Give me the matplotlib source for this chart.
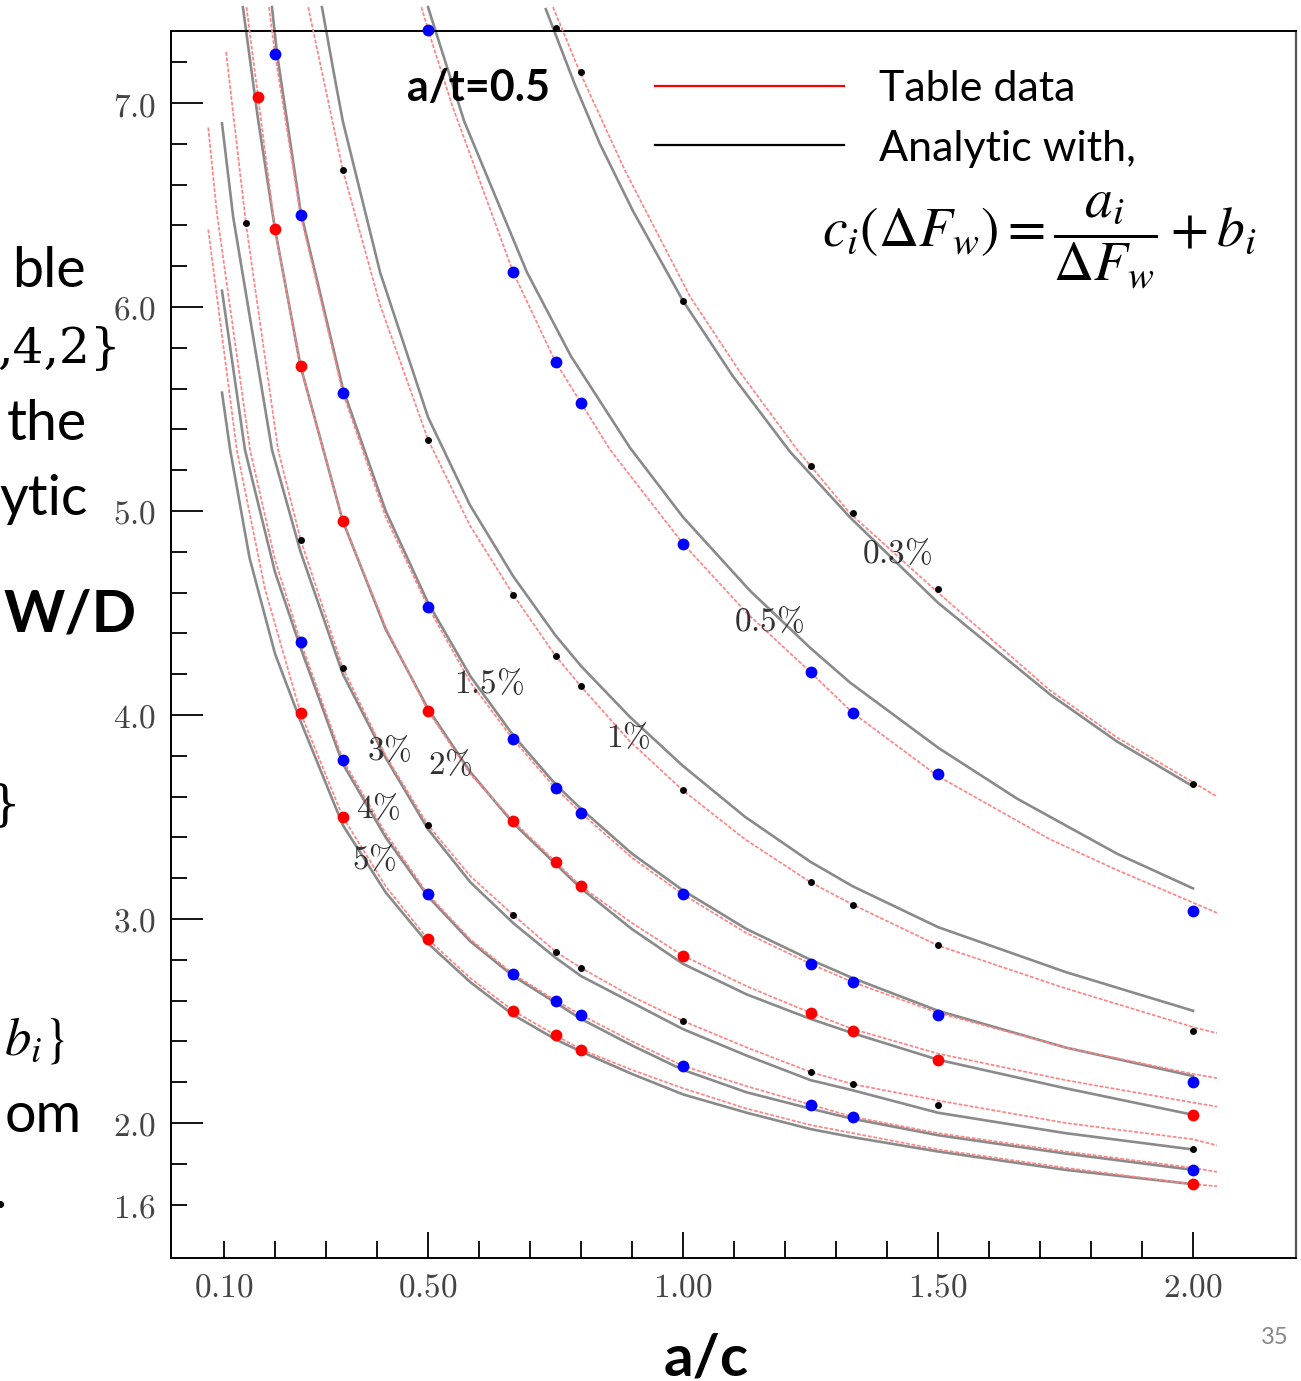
import matplotlib
matplotlib.use("Agg")
import matplotlib.pyplot as plt
from matplotlib.lines import Line2D
from matplotlib.ticker import FixedLocator, FixedFormatter

plt.rcParams['mathtext.fontset'] = 'cm'

# ---------------- data ----------------
# 0.3 %
dots03_x = [0.75, 0.8, 1.0, 1.25, 1.333, 1.5, 2.0]
dots03_y = [7.37, 7.15, 6.03, 5.22, 4.99, 4.62, 3.66]
gray03_x = [0.731, 0.788, 0.837, 0.902, 1.0, 1.098, 1.21, 1.327, 1.5, 1.72, 1.851, 2.0]
gray03_y = [7.46, 7.09, 6.80, 6.47, 6.03, 5.66, 5.29, 4.97, 4.55, 4.10, 3.87, 3.65]
red03_x = [0.745, 0.798, 0.886, 1.014, 1.112, 1.224, 1.327, 1.5, 1.72, 1.851, 2.0, 2.047]
red03_y = [7.47, 7.15, 6.67, 6.05, 5.68, 5.30, 4.99, 4.60, 4.12, 3.89, 3.67, 3.60]

# 0.5 %
dots05_x = [0.5, 0.667, 0.75, 0.8, 1.0, 1.25, 1.333, 1.5, 2.0]
dots05_y = [7.36, 6.17, 5.73, 5.53, 4.84, 4.21, 4.01, 3.71, 3.04]
gray05_x = [0.5, 0.571, 0.694, 0.78, 0.896, 1.0, 1.131, 1.249, 1.327, 1.5, 1.655, 1.851, 2.0]
gray05_y = [7.47, 6.91, 6.17, 5.76, 5.31, 4.97, 4.61, 4.33, 4.16, 3.84, 3.59, 3.32, 3.15]
red05_x = [0.487, 0.5, 0.547, 0.667, 0.75, 0.8, 0.857, 1.0, 1.125, 1.25, 1.333, 1.5, 1.72, 1.851, 2.0, 2.047]
red05_y = [7.47, 7.36, 6.99, 6.17, 5.73, 5.53, 5.30, 4.84, 4.50, 4.21, 4.01, 3.70, 3.39, 3.24, 3.08, 3.03]

# 1 %
dots1_x = [0.333, 0.5, 0.667, 0.75, 0.8, 1.0, 1.25, 1.333, 1.5, 2.0]
dots1_y = [6.67, 5.35, 4.59, 4.29, 4.14, 3.63, 3.18, 3.07, 2.87, 2.45]
gray1_x = [0.292, 0.318, 0.333, 0.406, 0.5, 0.582, 0.667, 0.75, 0.8, 0.896, 1.0, 1.122, 1.25, 1.333, 1.5, 1.75, 2.0]
gray1_y = [7.47, 7.11, 6.91, 6.17, 5.46, 5.03, 4.68, 4.39, 4.24, 3.99, 3.75, 3.50, 3.28, 3.16, 2.96, 2.74, 2.55]
red1_x = [0.265, 0.333, 0.406, 0.5, 0.582, 0.667, 0.75, 0.8, 0.896, 1.0, 1.122, 1.25, 1.333, 1.5, 1.75, 2.0, 2.047]
red1_y = [7.47, 6.67, 6.01, 5.35, 4.93, 4.59, 4.29, 4.14, 3.87, 3.63, 3.39, 3.18, 3.07, 2.87, 2.66, 2.47, 2.44]

# 1.5 %
dots15_x = [0.2, 0.25, 0.333, 0.5, 0.667, 0.75, 0.8, 1.0, 1.25, 1.333, 1.5, 2.0]
dots15_y = [7.24, 6.45, 5.58, 4.53, 3.88, 3.64, 3.52, 3.12, 2.78, 2.69, 2.53, 2.20]
gray15_x = [0.194, 0.204, 0.25, 0.333, 0.417, 0.5, 0.583, 0.667, 0.75, 0.8, 0.9, 1.0, 1.125, 1.25, 1.333, 1.5, 1.75, 2.0]
gray15_y = [7.47, 7.24, 6.47, 5.60, 5.00, 4.55, 4.19, 3.90, 3.66, 3.54, 3.32, 3.14, 2.95, 2.80, 2.71, 2.55, 2.37, 2.23]
red15_x = [0.188, 0.2, 0.25, 0.333, 0.417, 0.5, 0.583, 0.667, 0.75, 0.8, 0.9, 1.0, 1.125, 1.25, 1.333, 1.5, 1.75, 2.0, 2.047]
red15_y = [7.47, 7.24, 6.45, 5.58, 4.97, 4.53, 4.16, 3.88, 3.64, 3.52, 3.30, 3.12, 2.93, 2.78, 2.69, 2.54, 2.37, 2.24, 2.22]

# 2 %
dots2_x = [0.1667, 0.2, 0.25, 0.333, 0.5, 0.667, 0.75, 0.8, 1.0, 1.25, 1.333, 1.5, 2.0]
dots2_y = [7.03, 6.38, 5.71, 4.95, 4.02, 3.48, 3.28, 3.16, 2.82, 2.54, 2.45, 2.31, 2.04]
gray2_x = [0.137, 0.1667, 0.2, 0.25, 0.333, 0.417, 0.5, 0.583, 0.667, 0.75, 0.8, 0.9, 1.0, 1.125, 1.25, 1.333, 1.5, 1.75, 2.0]
gray2_y = [7.47, 6.92, 6.38, 5.71, 4.95, 4.42, 4.03, 3.72, 3.47, 3.27, 3.15, 2.95, 2.78, 2.63, 2.51, 2.44, 2.31, 2.17, 2.04]
red2_x = [0.144, 0.1667, 0.2, 0.25, 0.333, 0.417, 0.5, 0.583, 0.667, 0.75, 0.8, 0.9, 1.0, 1.125, 1.25, 1.333, 1.5, 1.75, 2.0, 2.047]
red2_y = [7.47, 7.03, 6.38, 5.71, 4.95, 4.43, 4.02, 3.71, 3.48, 3.28, 3.16, 2.98, 2.82, 2.67, 2.54, 2.46, 2.34, 2.21, 2.10, 2.08]

# 3 %
dots3_x = [0.1429, 0.25, 0.333, 0.5, 0.667, 0.75, 0.8, 1.0, 1.25, 1.333, 1.5, 2.0]
dots3_y = [6.41, 4.86, 4.23, 3.46, 3.02, 2.84, 2.76, 2.50, 2.25, 2.19, 2.09, 1.87]
gray3_x = [0.096, 0.118, 0.194, 0.25, 0.333, 0.417, 0.5, 0.583, 0.667, 0.75, 0.8, 0.9, 1.0, 1.125, 1.25, 1.333, 1.5, 1.75, 2.0]
gray3_y = [6.90, 6.44, 5.30, 4.80, 4.20, 3.79, 3.44, 3.18, 2.98, 2.81, 2.72, 2.59, 2.46, 2.33, 2.21, 2.16, 2.05, 1.95, 1.87]
red3_x = [0.104, 0.1429, 0.206, 0.25, 0.333, 0.417, 0.5, 0.583, 0.667, 0.75, 0.8, 0.9, 1.0, 1.125, 1.25, 1.333, 1.5, 1.75, 2.0, 2.047]
red3_y = [7.25, 6.41, 5.30, 4.86, 4.23, 3.80, 3.46, 3.21, 3.02, 2.84, 2.76, 2.62, 2.50, 2.37, 2.25, 2.19, 2.11, 2.00, 1.92, 1.89]

# 4 %
dots4_x = [0.25, 0.333, 0.5, 0.667, 0.75, 0.8, 1.0, 1.25, 1.333, 2.0]
dots4_y = [4.36, 3.78, 3.12, 2.73, 2.60, 2.53, 2.28, 2.09, 2.03, 1.77]
gray4_x = [0.096, 0.141, 0.2, 0.25, 0.333, 0.417, 0.5, 0.583, 0.667, 0.75, 0.8, 0.9, 1.0, 1.125, 1.25, 1.333, 1.5, 1.75, 2.0]
gray4_y = [6.08, 5.30, 4.70, 4.33, 3.76, 3.40, 3.11, 2.89, 2.72, 2.59, 2.51, 2.38, 2.26, 2.15, 2.07, 2.02, 1.94, 1.85, 1.77]
red4_x = [0.069, 0.086, 0.151, 0.2, 0.25, 0.333, 0.417, 0.5, 0.583, 0.667, 0.75, 0.8, 0.9, 1.0, 1.125, 1.25, 1.333, 1.5, 1.75, 2.0, 2.047]
red4_y = [6.88, 6.46, 5.30, 4.76, 4.36, 3.78, 3.42, 3.12, 2.90, 2.73, 2.60, 2.53, 2.40, 2.28, 2.18, 2.09, 2.03, 1.95, 1.86, 1.78, 1.76]

# 5 %
dots5_x = [0.25, 0.333, 0.5, 0.667, 0.75, 0.8, 2.0]
dots5_y = [4.01, 3.50, 2.90, 2.55, 2.43, 2.36, 1.70]
gray5_x = [0.096, 0.112, 0.15, 0.2, 0.25, 0.333, 0.417, 0.5, 0.583, 0.667, 0.75, 0.8, 0.9, 1.0, 1.125, 1.25, 1.333, 1.5, 1.75, 2.0]
gray5_y = [5.58, 5.30, 4.77, 4.30, 3.97, 3.46, 3.13, 2.88, 2.69, 2.53, 2.41, 2.35, 2.24, 2.14, 2.05, 1.97, 1.93, 1.86, 1.77, 1.70]
red5_x = [0.069, 0.125, 0.18, 0.25, 0.333, 0.417, 0.5, 0.583, 0.667, 0.75, 0.8, 0.9, 1.0, 1.125, 1.25, 1.333, 1.5, 1.75, 2.0, 2.047]
red5_y = [6.38, 5.30, 4.62, 4.01, 3.50, 3.16, 2.90, 2.71, 2.55, 2.43, 2.36, 2.26, 2.17, 2.07, 1.99, 1.95, 1.87, 1.78, 1.70, 1.69]

level_names = ['0.3', '0.5', '1', '1.5', '2', '3', '4', '5']
dot_colors = ['black', 'blue', 'black', 'blue', 'red', 'black', 'blue', 'red']
label_x = [1.420, 1.169, 0.892, 0.620, 0.543, 0.424, 0.402, 0.394]
label_y = [4.789, 4.456, 3.887, 4.152, 3.755, 3.828, 3.539, 3.289]

x_major = [0.5, 1.0, 1.5, 2.0]
x_minor = [0.1, 0.2, 0.3, 0.4, 0.6, 0.7, 0.8, 0.9, 1.1, 1.2, 1.3, 1.4, 1.6, 1.7, 1.8, 1.9]
y_major = [2.0, 3.0, 4.0, 5.0, 6.0, 7.0]
y_minor = [1.6, 1.8, 2.2, 2.4, 2.6, 2.8, 3.2, 3.4, 3.6, 3.8, 4.2, 4.4, 4.6, 4.8,
           5.2, 5.4, 5.6, 5.8, 6.2, 6.4, 6.6, 6.8, 7.2]

levels = [
    (gray03_x, gray03_y, red03_x, red03_y, dots03_x, dots03_y),
    (gray05_x, gray05_y, red05_x, red05_y, dots05_x, dots05_y),
    (gray1_x, gray1_y, red1_x, red1_y, dots1_x, dots1_y),
    (gray15_x, gray15_y, red15_x, red15_y, dots15_x, dots15_y),
    (gray2_x, gray2_y, red2_x, red2_y, dots2_x, dots2_y),
    (gray3_x, gray3_y, red3_x, red3_y, dots3_x, dots3_y),
    (gray4_x, gray4_y, red4_x, red4_y, dots4_x, dots4_y),
    (gray5_x, gray5_y, red5_x, red5_y, dots5_x, dots5_y),
]

# ---------------- figure ----------------
W, H = 1301, 1381
fig = plt.figure(figsize=(W / 100, H / 100), dpi=100)
ax = fig.add_axes([171 / W, 123 / H, 1125 / W, 1227 / H])

for (gx, gy, rx, ry, dx, dy), col in zip(levels, dot_colors):
    ax.plot(gx, gy, color='#8a8a8a', lw=1.9, clip_on=False, zorder=2)
    ax.plot(rx, ry, color='#ff8585', lw=1.25, ls=(0, (2.2, 1.0)), clip_on=False, zorder=3)
    ms = 5 if col == 'black' else 8.5
    ax.plot(dx, dy, 'o', color=col, ms=ms, mew=0, clip_on=False, zorder=4)

for name, lx, ly in zip(level_names, label_x, label_y):
    ax.text(lx, ly, r'$%s\%%$' % name, fontsize=24, color='#333333',
            ha='center', va='center', zorder=5)

ax.set_xlim(-0.004, 2.202)
ax.set_ylim(1.338, 7.353)

ax.xaxis.set_major_locator(FixedLocator(x_major))
ax.xaxis.set_major_formatter(FixedFormatter([r'$%.2f$' % v for v in x_major]))
ax.xaxis.set_minor_locator(FixedLocator(x_minor))
ax.xaxis.set_minor_formatter(FixedFormatter([r'$0.10$'] + [''] * (len(x_minor) - 1)))
ax.yaxis.set_major_locator(FixedLocator(y_major))
ax.yaxis.set_major_formatter(FixedFormatter([r'$%.1f$' % v for v in y_major]))
ax.yaxis.set_minor_locator(FixedLocator(y_minor))
ax.yaxis.set_minor_formatter(FixedFormatter([r'$1.6$'] + [''] * (len(y_minor) - 1)))

ax.tick_params(axis='x', which='major', direction='in', length=19, width=1.3,
               pad=9, labelsize=24, labelcolor='#444444')
ax.tick_params(axis='x', which='minor', direction='in', length=12, width=1.3,
               pad=9, labelsize=24, labelcolor='#444444')
ax.tick_params(axis='y', which='major', direction='in', length=23, width=1.3,
               pad=11, labelsize=24, labelcolor='#444444')
ax.tick_params(axis='y', which='minor', direction='in', length=11.5, width=1.3,
               pad=11, labelsize=24, labelcolor='#444444')

for side in ['left', 'bottom', 'top']:
    ax.spines[side].set_linewidth(1.4)
    ax.spines[side].set_color('black')
ax.spines['right'].set_linewidth(1.6)
ax.spines['right'].set_color('#555555')

# legend and annotations
handles = [Line2D([0], [0], color='red', lw=1.6), Line2D([0], [0], color='black', lw=1.6)]
ax.legend(handles, ['Table data', 'Analytic with,'], loc='upper left',
          bbox_to_anchor=(655 / W, 1 - 70 / H), bbox_transform=fig.transFigure,
          frameon=False, prop={'family': 'Lato', 'size': 31},
          handlelength=4.4, handletextpad=0.8, labelspacing=0.5,
          borderpad=0, borderaxespad=0)

fig.text(1039 / W, 1 - 240 / H, r'$c_i(\Delta F_w) = \dfrac{a_i}{\Delta F_w} + b_i$',
         fontsize=40, math_fontfamily='stix', ha='center', va='center')
fig.text(478 / W, 1 - 88 / H, 'a/t=0.5', fontsize=31, fontweight='bold',
         family='Lato', ha='center', va='center')

# fragments of the slide text around the chart
fig.text(86 / W, 1 - 287 / H, 'ble', family='Lato', size=40, ha='right', va='baseline')
fig.text(121 / W, 1 - 363 / H, ',4,2}', family='DejaVu Serif', size=35,
         ha='right', va='baseline')
fig.text(87 / W, 1 - 440 / H, 'the', family='Lato', size=40, ha='right', va='baseline')
fig.text(88 / W, 1 - 515 / H, 'ytic', family='Lato', size=40, ha='right', va='baseline')
fig.text(137 / W, 1 - 632 / H, 'W/D', family='Lato', weight='bold', size=42,
         ha='right', va='baseline')
fig.text(21 / W, 1 - 806 / H, '}', family='DejaVu Serif', size=35,
         ha='right', va='center')
fig.text(65 / W, 1 - 1040 / H, r'$b_i\}$', math_fontfamily='stix', size=38,
         ha='right', va='center')
fig.text(82 / W, 1 - 1132 / H, 'om', family='Lato', size=40, ha='right', va='baseline')
fig.text(7 / W, 1 - 1208 / H, '.', family='Lato', size=40, ha='right', va='baseline')
fig.text(706 / W, 1 - 1376 / H, 'a/c', family='Lato', weight='bold', size=42,
         ha='center', va='baseline')
fig.text(1275 / W, 1 - 1338 / H, '35', family='Lato', size=17, color='#888888',
         ha='center', va='center')

fig.savefig('out.png', dpi=100)
